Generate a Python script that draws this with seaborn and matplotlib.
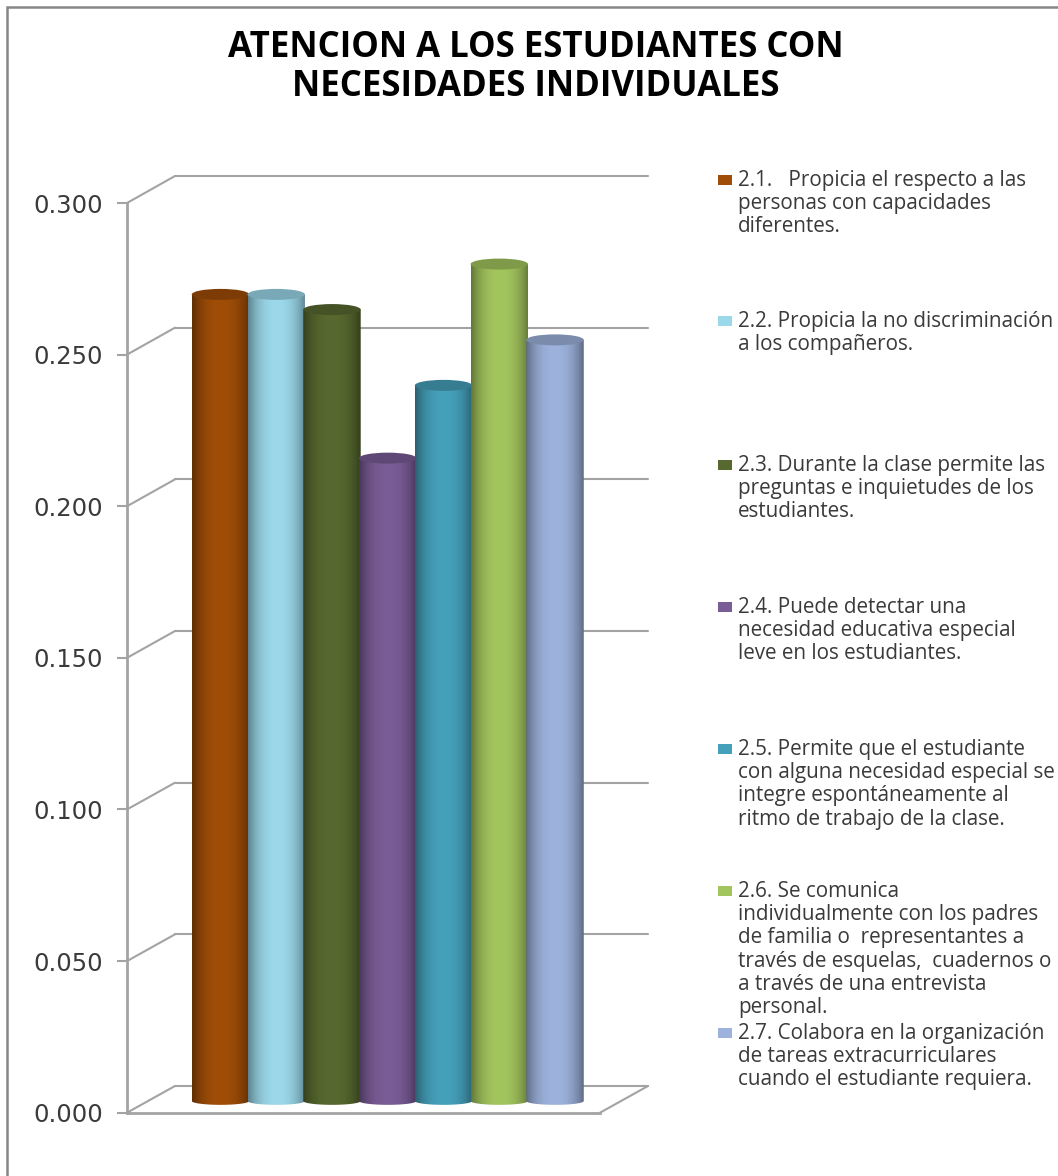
import numpy as np
import pandas as pd
import matplotlib
matplotlib.use("Agg")
import matplotlib.pyplot as plt
from matplotlib.patches import ConnectionPatch, Ellipse, PathPatch, Rectangle
from matplotlib.path import Path
import seaborn as sns

W, H = 1058, 1176
title_text = "ATENCION A LOS ESTUDIANTES CON\nNECESIDADES INDIVIDUALES"
categories = ["2.1", "2.2", "2.3", "2.4", "2.5", "2.6", "2.7"]
values = [0.266, 0.266, 0.261, 0.212, 0.236, 0.276, 0.251]
colors = ["#A04D08", "#9BD8EA", "#57692F", "#7A5C96", "#45A0BA", "#A3C55E", "#9DB2DC"]
y_ticks = [0.0, 0.05, 0.10, 0.15, 0.20, 0.25, 0.30]
y_labels = ["0.000", "0.050", "0.100", "0.150", "0.200", "0.250", "0.300"]
legend_labels = [
    "2.1.   Propicia el respecto a las\npersonas con capacidades\ndiferentes.",
    "2.2. Propicia la no discriminación\na los compañeros.",
    "2.3. Durante la clase permite las\npreguntas e inquietudes de los\nestudiantes.",
    "2.4. Puede detectar una\nnecesidad educativa especial\nleve en los estudiantes.",
    "2.5. Permite que el estudiante\ncon alguna necesidad especial se\nintegre espontáneamente al\nritmo de trabajo de la clase.",
    "2.6. Se comunica\nindividualmente con los padres\nde familia o  representantes a\ntravés de esquelas,  cuadernos o\na través de una entrevista\npersonal.",
    "2.7. Colabora en la organización\nde tareas extracurriculares\ncuando el estudiante requiera.",
]
legend_y = [180, 321, 465, 607, 749, 891, 1033]

sns.set_theme(style="white")
plt.rcParams["font.family"] = ["Open Sans", "DejaVu Sans"]
GRID = "#A3A3A3"

fig = plt.figure(figsize=(W / 100, H / 100), dpi=100, facecolor="white")


def ax_px(left, top, right, bottom, **kw):
    return fig.add_axes([left / W, 1 - bottom / H, (right - left) / W, (bottom - top) / H], **kw)


# outer chart frame (continues past the right and bottom edges of the picture)
fig.add_artist(Rectangle((7 / W, -0.1), 1.2, 1.1 - 7 / H, transform=fig.transFigure, fill=False,
                         edgecolor="#878787", linewidth=1.8))

fig.text(536 / W, 1 - 67.5 / H, title_text, ha="center", va="center", fontsize=25,
         fontweight="bold", color="black", linespacing=1.1)

# back wall
ax_back = ax_px(175, 176, 648, 1086, zorder=1, facecolor="none")
ax_back.set_ylim(0, 0.3)
ax_back.set_xlim(0, 1)
ax_back.set_yticks(y_ticks)
ax_back.set_xticks([])
ax_back.tick_params(left=False, labelleft=False)
ax_back.grid(True, axis="y", color=GRID, linewidth=1.5)
for gl in ax_back.get_ygridlines():
    gl.set_clip_on(False)
sns.despine(ax=ax_back, left=True, bottom=True, top=True, right=True)

# front plane with the value axis
ax_front = ax_px(127, 203, 600, 1112.7, zorder=2, facecolor="none")
ax_front.set_ylim(0, 0.3)
ax_front.set_xlim(0, 1)
ax_front.set_xticks([])
ax_front.set_yticks(y_ticks)
ax_front.set_yticklabels(y_labels, fontsize=17.5, family="DejaVu Sans", color="#3A3A3A")
ax_front.tick_params(axis="y", left=True, length=7.2, width=1.5, color=GRID, pad=10)
sns.despine(ax=ax_front)
for s in ("left", "bottom"):
    ax_front.spines[s].set_color(GRID)
    ax_front.spines[s].set_linewidth(2)

# depth lines joining front plane to back wall
for v in y_ticks:
    fig.add_artist(ConnectionPatch((0, v), (0, v), coordsA=ax_front.transData, coordsB=ax_back.transData,
                                   color=GRID, linewidth=1.5, zorder=1.5))
fig.add_artist(ConnectionPatch((1, 0), (1, 0), coordsA=ax_front.transData, coordsB=ax_back.transData,
                               color=GRID, linewidth=1.5, zorder=1.5))

# cylinders
PX_PER_UNIT = 909.7 / 0.3
BASE_Y = 1101
ax_bars = ax_px(187, BASE_Y - 0.3 * PX_PER_UNIT, 588.5, BASE_Y + 12, zorder=3, facecolor="none")
df = pd.DataFrame({"item": categories, "value": values})
sns.barplot(data=df, x="item", y="value", hue="item", palette=colors, order=categories, hue_order=categories,
            width=1.03, legend=False, saturation=1, ax=ax_bars, zorder=1)
ax_bars.set_axis_off()
ELL_H = 11 / PX_PER_UNIT
t = np.linspace(-1, 1, 128)
shade = 0.60 + 0.40 * (1 - np.abs(t) ** 2.4)
for i, (patch, col) in enumerate(zip(ax_bars.patches, colors)):
    x0, w, h = patch.get_x(), patch.get_width(), patch.get_height()
    cx = x0 + w / 2
    rgb = np.array(matplotlib.colors.to_rgb(col))
    img = np.clip(rgb[None, None, :] * shade[None, :, None], 0, 1)
    theta = np.linspace(np.pi, 2 * np.pi, 40)
    verts = [(x0, h)] + [(cx + w / 2 * np.cos(a), 0.7 * ELL_H / 2 * np.sin(a)) for a in theta] + [(x0 + w, h), (x0, h)]
    clip = PathPatch(Path(verts), transform=ax_bars.transData, facecolor="none", edgecolor="none")
    im = ax_bars.imshow(img, extent=(x0, x0 + w, -ELL_H, h), aspect="auto", zorder=2 + i * 0.1,
                        interpolation="bilinear")
    im.set_clip_path(clip)
    ax_bars.add_patch(Ellipse((cx, h), w, ELL_H, angle=0, facecolor=rgb * 0.78, edgecolor="none",
                              zorder=2.05 + i * 0.1))
    patch.set_visible(False)
ax_bars.set_xlim(-0.6, 6.6)
ax_bars.set_ylim(-12 / PX_PER_UNIT, 0.3)

# legend entries
for label, col, y in zip(legend_labels, colors, legend_y):
    fig.patches.append(Rectangle((718 / W, 1 - (y + 5) / H), 14 / W, 10 / H, transform=fig.transFigure,
                                 facecolor=col, edgecolor="none", figure=fig))
    fig.text(738 / W, 1 - (y - 10) / H, label, ha="left", va="top", fontsize=14.9, color="#3A3A3A",
             linespacing=1.14)

fig.savefig("out.png", dpi=100, facecolor="white")
